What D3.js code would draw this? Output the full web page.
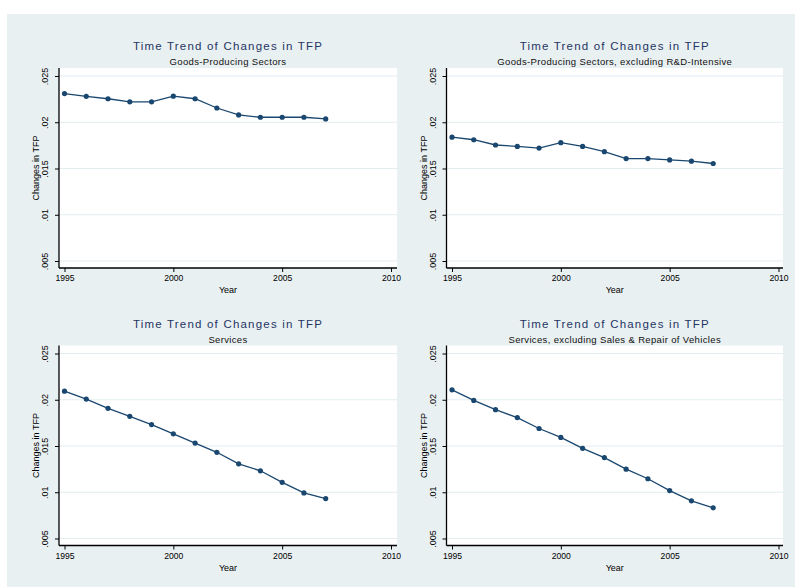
<!DOCTYPE html>
<html>
<head>
<meta charset="utf-8">
<script src="https://cdn.jsdelivr.net/npm/d3@7"></script>
<style>
  html, body { margin: 0; padding: 0; background: #ffffff; }
  svg { display: block; }
  text { font-family: "Liberation Sans", Arial, sans-serif; }
</style>
</head>
<body>
<svg id="chart" width="795" height="587"></svg>
<script>
// ---------------- data ----------------
const years = [1995, 1996, 1997, 1998, 1999, 2000, 2001, 2002, 2003, 2004, 2005, 2006, 2007];
const goodsProducing = [0.0231, 0.0228, 0.02254, 0.02221, 0.02221, 0.02282, 0.02254, 0.02154, 0.02079, 0.02054, 0.02054, 0.02054, 0.02036];
const goodsExclRD = [0.01839, 0.01811, 0.01754, 0.01739, 0.01721, 0.01779, 0.01739, 0.01682, 0.01607, 0.01607, 0.01593, 0.01579, 0.01554];
const services = [0.02093, 0.02007, 0.01907, 0.01821, 0.01732, 0.01632, 0.01532, 0.01432, 0.01307, 0.01232, 0.01107, 0.00993, 0.00932];
const servicesExclVehicles = [0.02107, 0.01993, 0.01893, 0.01807, 0.01689, 0.01593, 0.01475, 0.01375, 0.0125, 0.01146, 0.01018, 0.00907, 0.00832];

const chartTitle = "Time Trend of Changes in TFP";
const subtitles = [
  "Goods-Producing Sectors",
  "Goods-Producing Sectors, excluding R&D-Intensive",
  "Services",
  "Services, excluding Sales & Repair of Vehicles"
];
const seriesList = [goodsProducing, goodsExclRD, services, servicesExclVehicles];

const yTicks = [0.005, 0.01, 0.015, 0.02, 0.025];
const yTickLabels = [".005", ".01", ".015", ".02", ".025"];
const xTicks = [1995, 2000, 2005, 2010];
const yAxisTitle = "Changes in TFP";
const xAxisTitle = "Year";

// ---------------- layout ----------------
const svg = d3.select("#chart");
const bgColor = "#e9f0f2";
const lineColor = "#1a476f";
const titleColor = "#1f3563";

svg.append("rect").attr("x", 7).attr("y", 14).attr("width", 788).attr("height", 573).attr("fill", bgColor);

const panels = [
  { left: 59,    top: 68,    width: 338, height: 200 },
  { left: 446.5, top: 68,    width: 336.5, height: 200 },
  { left: 59,    top: 345.5, width: 338, height: 200 },
  { left: 446.5, top: 345.5, width: 336.5, height: 200 }
];

panels.forEach((p, i) => {
  const g = svg.append("g");
  const right = p.left + p.width;
  const bottom = p.top + p.height;

  const x = d3.scaleLinear().domain([1995, 2010]).range([p.left + 5.5, p.left + 332]);
  const y = d3.scaleLinear().domain([0.005, 0.025]).range([bottom - 7, p.top + 8]);

  // plot region
  g.append("rect").attr("x", p.left).attr("y", p.top).attr("width", p.width).attr("height", p.height).attr("fill", "#ffffff");

  // gridlines
  g.selectAll("line.grid").data(yTicks).enter().append("line")
    .attr("class", "grid")
    .attr("x1", p.left).attr("x2", right)
    .attr("y1", d => y(d)).attr("y2", d => y(d))
    .attr("stroke", "#e3ecef").attr("stroke-width", 1.2);

  // y axis
  const yAxis = d3.axisLeft(y).tickValues(yTicks).tickSize(4).tickSizeOuter(0)
    .tickFormat((d, k) => yTickLabels[k]);
  const ya = g.append("g").attr("transform", `translate(${p.left},0)`).call(yAxis);
  ya.select(".domain").remove();
  ya.selectAll(".tick line").attr("stroke", "#000").attr("stroke-width", 1);
  ya.selectAll(".tick text")
    .attr("x", null).attr("dy", null)
    .attr("transform", "translate(-11,0) rotate(-90)")
    .attr("text-anchor", "middle")
    .attr("font-size", 9).attr("fill", "#000")
    .attr("font-family", "'Liberation Sans', Arial, sans-serif");
  g.append("line").attr("x1", p.left).attr("x2", p.left).attr("y1", p.top).attr("y2", bottom)
    .attr("stroke", "#000").attr("stroke-width", 1.3);

  // x axis
  const xAxis = d3.axisBottom(x).tickValues(xTicks).tickSize(4).tickSizeOuter(0).tickFormat(d3.format("d"));
  const xa = g.append("g").attr("transform", `translate(0,${bottom})`).call(xAxis);
  xa.select(".domain").remove();
  xa.selectAll(".tick line").attr("stroke", "#000").attr("stroke-width", 1);
  xa.selectAll(".tick text")
    .attr("y", 13).attr("dy", null)
    .attr("font-size", 8.6).attr("fill", "#000")
    .attr("font-family", "'Liberation Sans', Arial, sans-serif");
  g.append("line").attr("x1", p.left).attr("x2", right).attr("y1", bottom).attr("y2", bottom)
    .attr("stroke", "#000").attr("stroke-width", 1.3);

  // axis titles
  g.append("text").attr("x", (p.left + right) / 2).attr("y", bottom + 25)
    .attr("text-anchor", "middle").attr("font-size", 9).attr("fill", "#000").text(xAxisTitle);
  g.append("text")
    .attr("transform", `translate(${p.left - 20},${(p.top + bottom) / 2}) rotate(-90)`)
    .attr("text-anchor", "middle").attr("font-size", 9).attr("fill", "#000").text(yAxisTitle);

  // titles
  g.append("text").attr("x", (p.left + right) / 2).attr("y", p.top - 18)
    .attr("text-anchor", "middle").attr("font-size", 11.5).attr("letter-spacing", 1.2)
    .attr("fill", titleColor).text(chartTitle);
  g.append("text").attr("x", (p.left + right) / 2).attr("y", p.top - 3)
    .attr("text-anchor", "middle").attr("font-size", 9.5).attr("letter-spacing", 0.35)
    .attr("fill", "#111").text(subtitles[i]);

  // series
  const data = years.map((yr, k) => ({ yr, v: seriesList[i][k] }));
  const line = d3.line().x(d => x(d.yr)).y(d => y(d.v));
  g.append("path").datum(data).attr("d", line)
    .attr("fill", "none").attr("stroke", lineColor).attr("stroke-width", 1.3);
  g.selectAll("circle.pt").data(data).enter().append("circle")
    .attr("class", "pt")
    .attr("cx", d => x(d.yr)).attr("cy", d => y(d.v)).attr("r", 2.6)
    .attr("fill", lineColor);
});
</script>
</body>
</html>
